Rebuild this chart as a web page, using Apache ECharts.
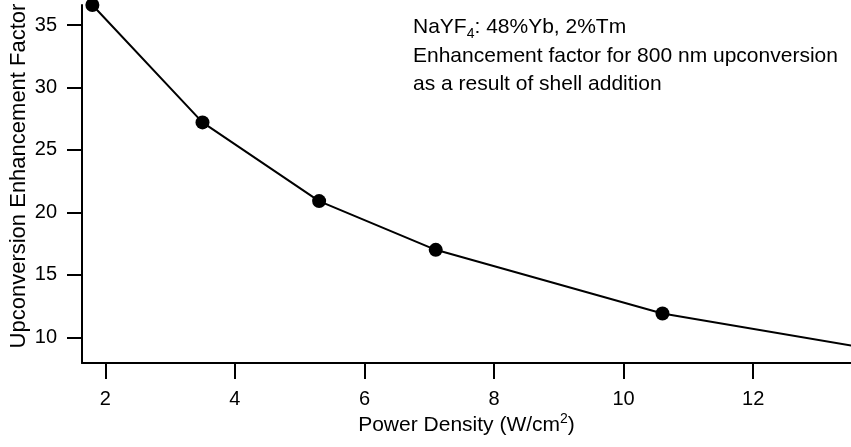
<!DOCTYPE html>
<html>
<head>
<meta charset="utf-8">
<script src="https://cdn.jsdelivr.net/npm/echarts@6/dist/echarts.min.js"></script>
<style>
  html, body { margin: 0; padding: 0; background: #fff; }
  #chart { width: 851px; height: 447px; }
</style>
</head>
<body>
<div id="chart"></div>
<script>
// Enhancement factor vs. excitation power density
const powerDensity = [1.8, 3.5, 5.3, 7.1, 10.6, 15.1];
const enhancement = [36.6, 27.2, 20.9, 17.0, 11.9, 7.94];
const xTicks = [2, 4, 6, 8, 10, 12];
const yTicks = [10, 15, 20, 25, 30, 35];
const noteLines = [
  '{n|NaYF}{sub|4}{n|: 48%Yb, 2%Tm}',
  'Enhancement factor for 800 nm upconversion',
  'as a result of shell addition'
];

const FONT = '"Liberation Sans", Arial, sans-serif';
const chart = echarts.init(document.getElementById('chart'), null, { renderer: 'canvas' });

const points = powerDensity.map((x, i) => [x, enhancement[i]]);

chart.setOption({
  animation: false,
  backgroundColor: '#ffffff',
  grid: { left: 82, right: 0, top: 5, bottom: 84, containLabel: false, outerBoundsMode: 'none' },
  xAxis: {
    type: 'value',
    min: 1.64,
    max: 13.51,
    name: '{t|Power Density (W/cm}{sup|2}{t|)}',
    nameLocation: 'middle',
    nameGap: 49,
    nameMoveOverlap: false,
    nameTextStyle: {
      rich: {
        t: { fontFamily: FONT, fontSize: 21, color: '#000' },
        sup: { fontFamily: FONT, fontSize: 14, color: '#000', verticalAlign: 'top', padding: [0, 0, 12, 0] }
      }
    },
    axisLine: { show: true, onZero: false, lineStyle: { color: '#000', width: 2 } },
    axisTick: { show: true, inside: false, length: 16, lineStyle: { color: '#000', width: 2 }, customValues: xTicks },
    axisLabel: { show: true, margin: 26, fontFamily: FONT, fontSize: 20, color: '#000', customValues: xTicks },
    splitLine: { show: false }
  },
  yAxis: {
    type: 'value',
    min: 7.94,
    max: 36.6,
    name: 'Upconversion Enhancement Factor',
    nameLocation: 'middle',
    nameGap: 52,
    nameMoveOverlap: false,
    nameTextStyle: { fontFamily: FONT, fontSize: 22, color: '#000', padding: [0, 0, 0, 16] },
    axisLine: { show: true, onZero: false, lineStyle: { color: '#000', width: 2 } },
    axisTick: { show: true, inside: false, length: 15, lineStyle: { color: '#000', width: 2 }, customValues: yTicks },
    axisLabel: { show: true, margin: 25, fontFamily: FONT, fontSize: 20, color: '#000', customValues: yTicks },
    splitLine: { show: false }
  },
  series: [{
    type: 'line',
    data: points,
    clip: true,
    symbol: 'circle',
    symbolSize: 14,
    showAllSymbol: true,
    itemStyle: { color: '#000' },
    lineStyle: { color: '#000', width: 2 }
  }],
  graphic: [{
    type: 'text',
    left: 413,
    top: 13,
    style: {
      text: noteLines.join('\n'),
      fontFamily: FONT,
      fontSize: 21,
      lineHeight: 28.5,
      fill: '#000',
      rich: {
        n: { fontFamily: FONT, fontSize: 21, lineHeight: 28.5, color: '#000' },
        sub: { fontFamily: FONT, fontSize: 14, lineHeight: 28.5, color: '#000', verticalAlign: 'bottom', padding: [8, 0, 0, 0] }
      }
    }
  }]
});
</script>
</body>
</html>
